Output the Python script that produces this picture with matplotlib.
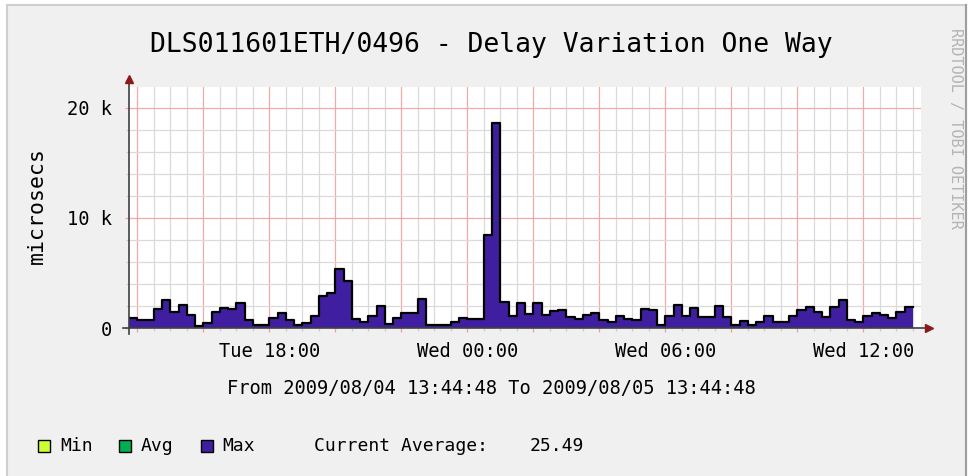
import matplotlib
matplotlib.use('Agg')
import matplotlib.pyplot as plt
import matplotlib.dates as mdates
from matplotlib.patches import Rectangle
from matplotlib.lines import Line2D
import pandas as pd

# 数据：每 15 分钟一个 Max 值（微秒）
t_start = '2009-08-04 13:44:48'
t_end = '2009-08-05 13:44:48'
step_start = '2009-08-04 13:45:00'
max_vals = [900, 750, 750, 1750, 2500, 1450, 2050, 1150, 200, 450,
            1450, 1800, 1700, 2300, 750, 300, 300, 900, 1400, 700,
            300, 450, 1100, 2900, 3200, 5400, 4250, 800, 550, 1050,
            2000, 350, 900, 1350, 1350, 2650, 300, 300, 300, 550,
            900, 850, 800, 8450, 18600, 2400, 1100, 2300, 1250, 2250,
            1200, 1500, 1600, 1000, 850, 1150, 1400, 750, 550, 1050,
            800, 750, 1750, 1600, 300, 1050, 2050, 1050, 1850, 1000,
            1000, 2000, 1000, 300, 600, 250, 500, 1050, 550, 550,
            1100, 1600, 1900, 1450, 1000, 1900, 2500, 750, 550, 1050,
            1400, 1200, 900, 1450, 1950]
legend_names = ['Min', 'Avg', 'Max']
legend_colors = ['#CCFF33', '#00B050', '#3F1F9F']
current_avg = 25.49
title = 'DLS011601ETH/0496 - Delay Variation One Way'

W, H = 968, 476
MONO = 'DejaVu Sans Mono'

def fx(px):
    return px / W

def fy(py):
    return 1 - py / H

fig = plt.figure(figsize=(W / 100, H / 100), dpi=100, facecolor='white')

# 背景框（放在坐标区下面）
fig.add_artist(Rectangle((fx(7), -0.02), fx(966 - 7), fy(5) + 0.02,
                         transform=fig.transFigure, facecolor='#F0F0F0',
                         edgecolor='#CFCFCF', lw=1.5, zorder=-10))
fig.add_artist(Line2D([fx(966), fx(966)], [0, fy(5)], transform=fig.transFigure,
                      color='#9E9E9E', lw=1.5, zorder=-9))

ax = fig.add_axes([fx(129), fy(328), fx(921 - 129), (328 - 87) / H])
ax.set_facecolor('white')

times = pd.date_range(step_start, periods=len(max_vals) + 1, freq='15min')
y = max_vals + [max_vals[-1]]
ax.fill_between(times, 0, y, step='post', color=legend_colors[2], lw=0, zorder=2)
ax.step(times, y, where='post', color='black', lw=1.6, zorder=3)

ax.set_xlim(pd.Timestamp(t_start), pd.Timestamp(t_end))
ax.set_ylim(0, 21909)

ax.xaxis.set_major_locator(mdates.HourLocator(byhour=range(0, 24, 2)))
ax.xaxis.set_minor_locator(mdates.MinuteLocator(byminute=[0, 30]))
ax.xaxis.set_major_formatter(
    plt.FuncFormatter(lambda v, p: mdates.num2date(v).strftime('%a %H:%M')
                      if mdates.num2date(v).hour % 6 == 0 else ''))
ax.yaxis.set_major_locator(plt.MultipleLocator(10000))
ax.yaxis.set_minor_locator(plt.MultipleLocator(2000))
ax.yaxis.set_major_formatter(
    plt.FuncFormatter(lambda v, p: '0' if v == 0 else f'{int(v / 1000)} k'))

ax.grid(True, which='minor', color='#DADADA', lw=0.9)
ax.grid(True, which='major', color='#F4A8A8', lw=0.9)
ax.set_axisbelow(True)

ax.tick_params(which='major', color='#F0A0A0', length=3, width=0.9)
ax.tick_params(which='minor', color='#CCCCCC', length=2, width=0.9)
ax.tick_params(axis='x', which='major', pad=7, labelsize=13.5)
ax.tick_params(axis='y', which='major', pad=9.5, labelsize=13.5)
for lab in ax.get_xticklabels() + ax.get_yticklabels():
    lab.set_family(MONO)

for s in ax.spines.values():
    s.set_visible(False)

# 坐标轴与箭头
ax.plot([0, 0], [-0.025, 1.03], transform=ax.transAxes, color='#404040',
        lw=1.2, clip_on=False, zorder=4)
ax.plot([-0.008, 1.005], [0, 0], transform=ax.transAxes, color='#404040',
        lw=1.2, clip_on=False, zorder=4)
ax.plot([0], [1.035], transform=ax.transAxes, marker='^', color='#8B1A1A',
        ms=6, clip_on=False, zorder=5)
ax.plot([1.01], [0], transform=ax.transAxes, marker='>', color='#8B1A1A',
        ms=6, clip_on=False, zorder=5)

# 文本
fig.text(fx(491), fy(45), title, ha='center', va='center', family=MONO, fontsize=19)
fig.text(fx(37), fy(206), 'microsecs', rotation=90, ha='center', va='center',
         family=MONO, fontsize=15.5)
fig.text(fx(491), fy(389), f'From {t_start.replace("-", "/")} To {t_end.replace("-", "/")}',
         ha='center', va='center', family=MONO, fontsize=13.5)
fig.text(fx(955), fy(128), 'RRDTOOL / TOBI OETIKER', rotation=270, ha='center',
         va='center', family=MONO, fontsize=11, color='#B4B4B4')

# 图例
sq_x = [38, 119, 201]
txt_x = [60, 141, 222]
for name, col, sx, tx in zip(legend_names, legend_colors, sq_x, txt_x):
    fig.add_artist(Rectangle((fx(sx), fy(452)), fx(12), 12 / H, transform=fig.transFigure,
                             facecolor=col, edgecolor='black', lw=1))
    fig.text(fx(tx), fy(446), name, ha='left', va='center', family=MONO, fontsize=13)
fig.text(fx(314), fy(446), 'Current Average:', ha='left', va='center', family=MONO, fontsize=13)
fig.text(fx(530), fy(446), f'{current_avg:.2f}', ha='left', va='center', family=MONO, fontsize=13)

fig.savefig('out.png', dpi=100)
